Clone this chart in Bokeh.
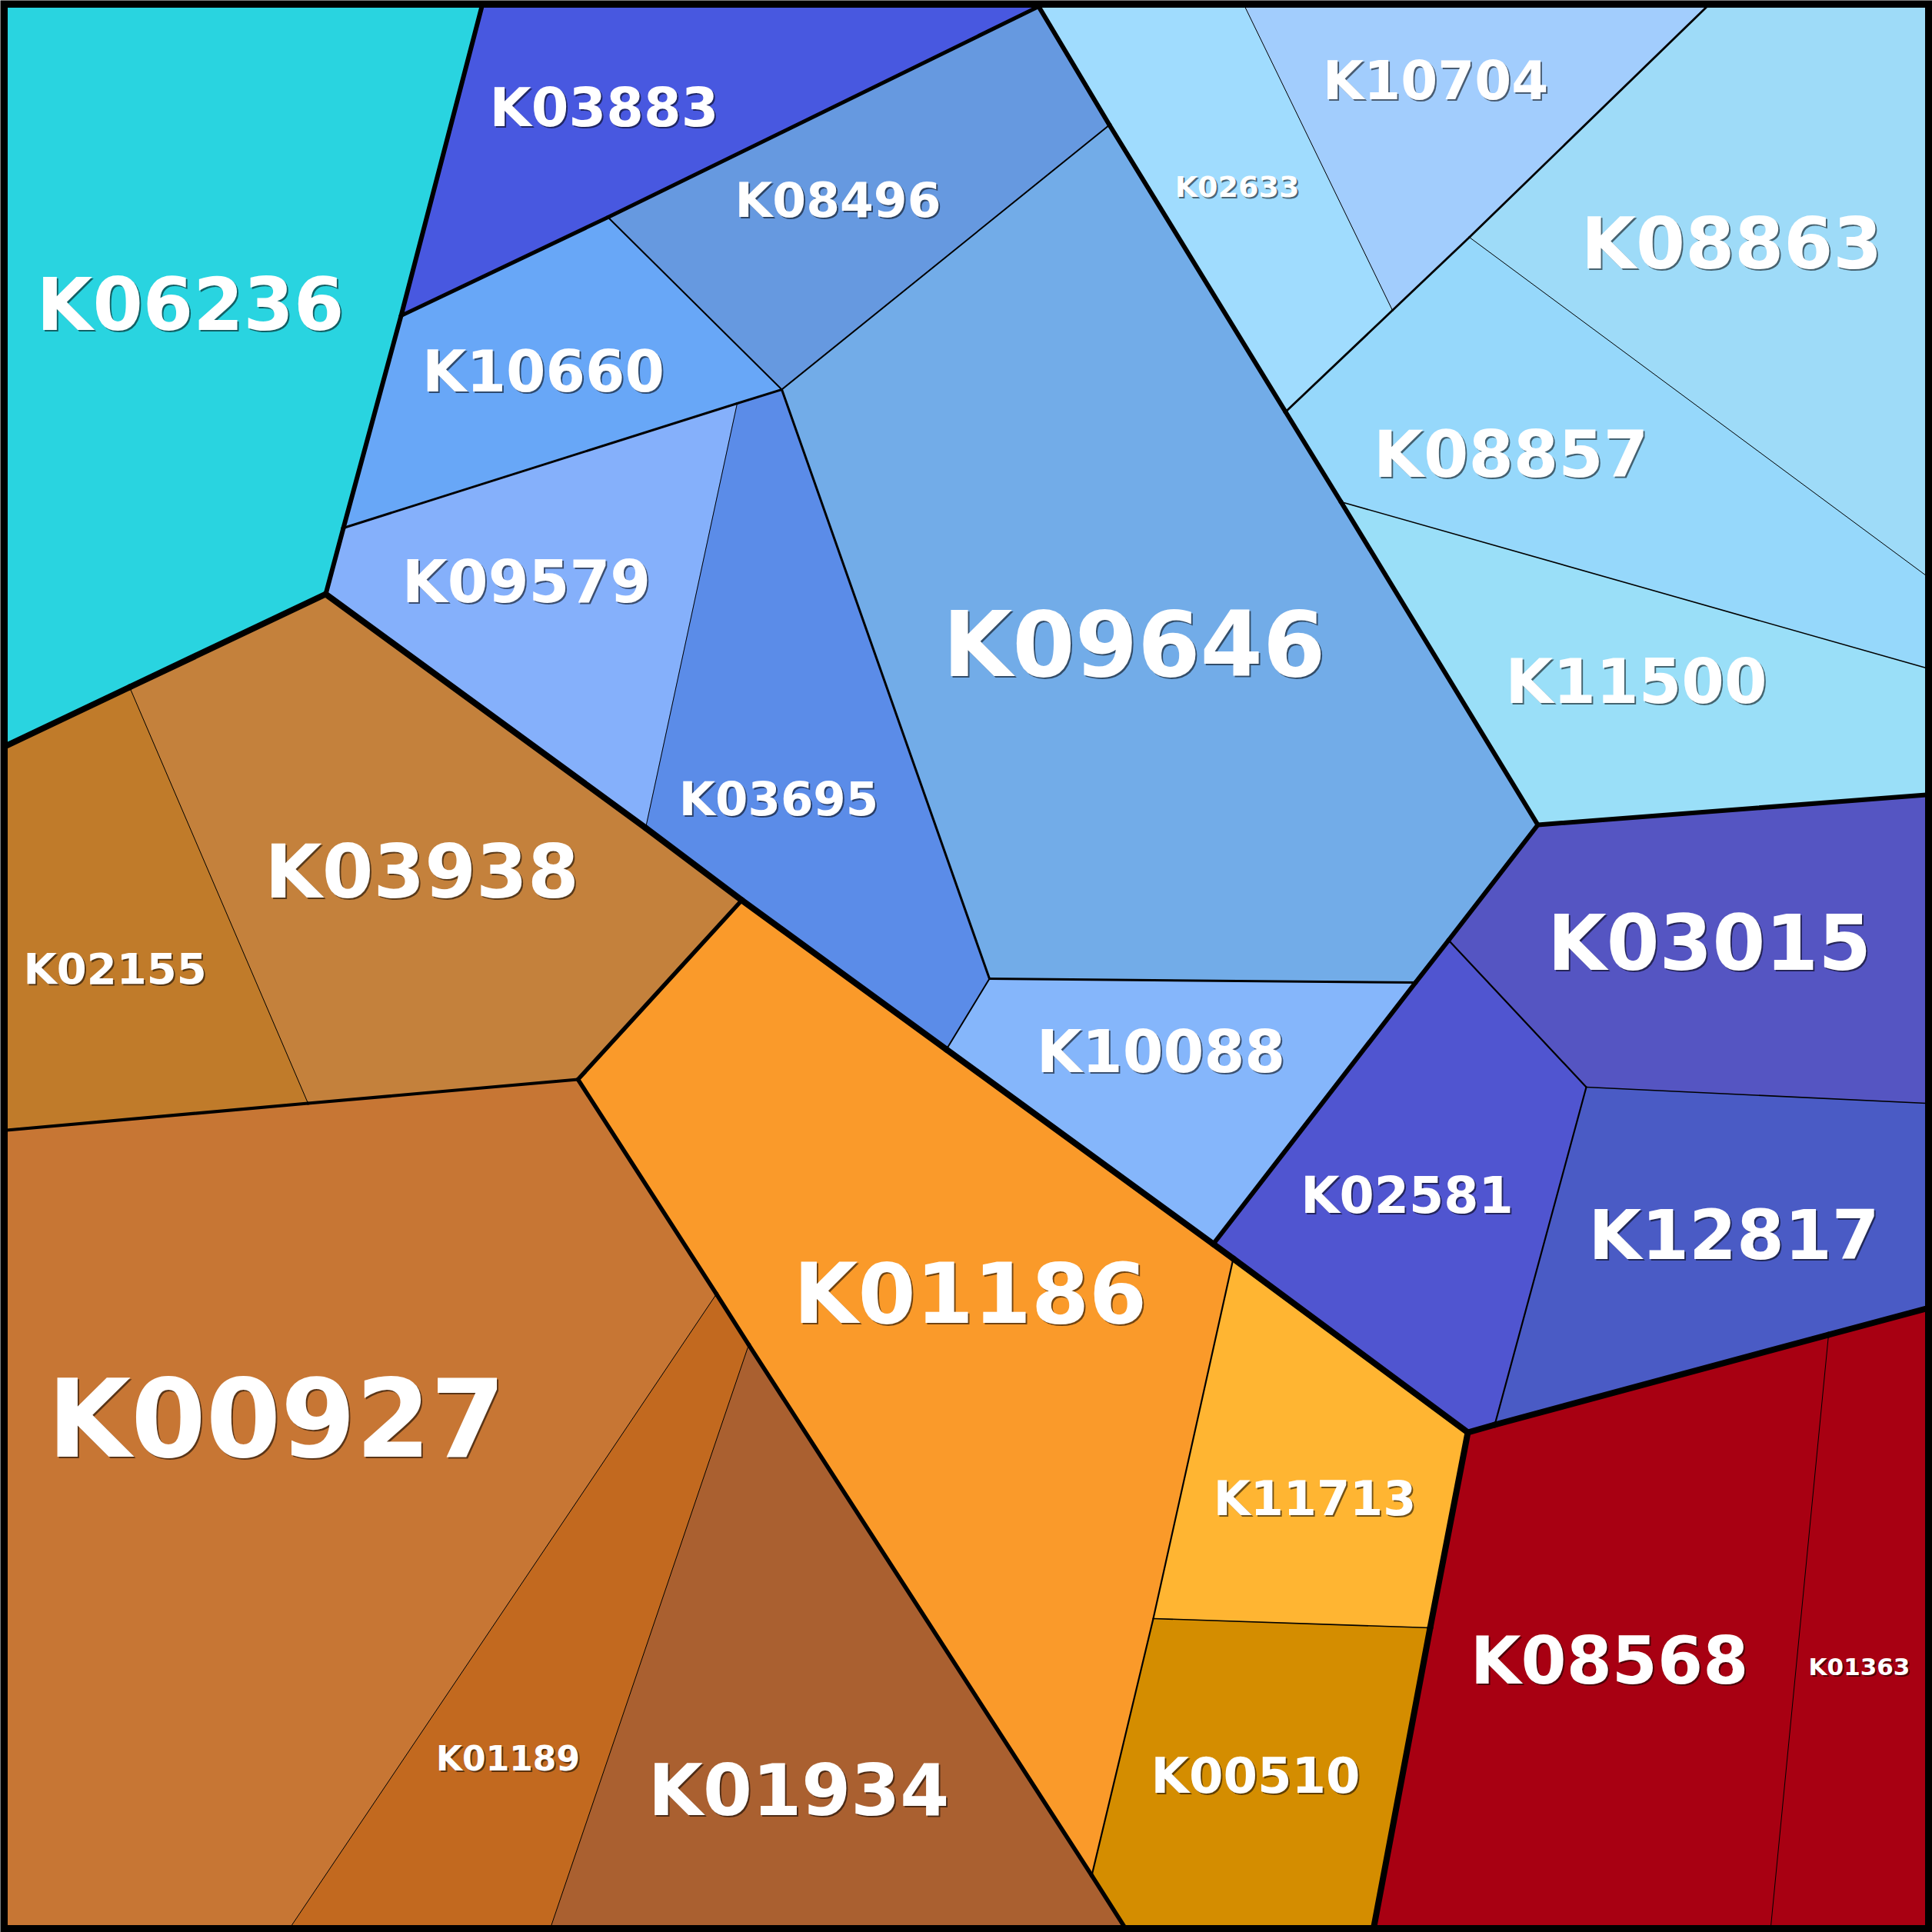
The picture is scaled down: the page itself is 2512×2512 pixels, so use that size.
from bokeh.plotting import figure
from bokeh.models import ColumnDataSource, Range1d
from bokeh.core.properties import value
from bokeh.embed import file_html
from bokeh.resources import INLINE

# ---------------- data (reference pixel coordinates) ----------------
vertex_names = ["O_TL", "t1", "t2", "t3", "t4", "O_TR", "r1", "r2", "r3", "r4", "r5", "O_BR",
                "b5", "b4", "b3", "b2", "b1", "O_BL", "l2", "l1",
                "a", "b", "c", "d", "e", "f", "g", "h", "i", "j", "k", "m", "n", "o",
                "p", "q", "r", "s", "t", "u", "v", "w", "x1", "y1", "z", "aa", "bb", "cc",
                "dd", "ee", "ff", "gg"]
vertex_x = [8, 626, 1350, 1618, 2219, 2504, 2504, 2504, 2504, 2504, 2504, 2504,
            2302, 1786, 1461, 716, 378, 8, 8, 8,
            521, 423, 790, 1016, 958, 446, 839, 1442, 1286, 1230, 1840, 1883, 1999, 2062,
            1577, 1603, 1908, 1943, 2377, 1859, 1499, 1419, 751, 964, 931, 973, 400, 168,
            1671, 1743, 1810, 1910]
vertex_y = [8, 8, 8, 8, 8, 8, 748, 868, 1033, 1434, 1701, 2504,
            2504, 2504, 2504, 2504, 2504, 2504, 1469, 969,
            410, 772, 282, 506, 524, 686, 1076, 162, 1272, 1364, 1277, 1222, 1072, 1413,
            1617, 1636, 1862, 1852, 1735, 2116, 2104, 2438, 1403, 1170, 1682, 1748, 1434, 893,
            535, 652, 403, 308]

cell_names = ["K06236", "K03883", "K08496", "K10660", "K09579", "K03695", "K09646", "K10088",
              "K02633", "K10704", "K08863", "K08857", "K11500",
              "K03015", "K02581", "K12817",
              "K08568", "K01363",
              "K11713", "K00510", "K01186",
              "K01934", "K01189", "K00927", "K03938", "K02155"]
cell_vertices = [
    ["O_TL", "t1", "a", "f", "b", "cc", "l1"],
    ["t1", "t2", "c", "a"],
    ["c", "t2", "h", "d"],
    ["a", "c", "d", "e", "f"],
    ["f", "e", "g", "b"],
    ["e", "d", "i", "j", "y1", "g"],
    ["d", "h", "dd", "ee", "n", "m", "k", "i"],
    ["i", "k", "p", "j"],
    ["t2", "t3", "ff", "dd", "h"],
    ["t3", "t4", "gg", "ff"],
    ["t4", "O_TR", "r1", "gg"],
    ["ff", "gg", "r1", "r2", "ee", "dd"],
    ["ee", "r2", "r3", "n"],
    ["n", "r3", "r4", "o", "m"],
    ["m", "o", "s", "r", "q", "p", "k"],
    ["o", "r4", "r5", "t", "s"],
    ["r", "s", "t", "b5", "b4", "u"],
    ["t", "r5", "O_BR", "b5"],
    ["q", "r", "u", "v"],
    ["v", "u", "b4", "b3", "w"],
    ["x1", "y1", "j", "p", "q", "v", "w", "aa", "z"],
    ["aa", "w", "b3", "b2"],
    ["z", "aa", "b2", "b1"],
    ["l2", "bb", "x1", "z", "b1", "O_BL"],
    ["cc", "b", "g", "y1", "x1", "bb"],
    ["l1", "cc", "bb", "l2"],
]

# hierarchy of the treemap (group name, children)
hierarchy = ("root", [
    ("G1", [
        "K06236",
        ("BLUE", ["K03883",
                  ("B2", [("B2a", ["K10660", "K08496", "K09646"]),
                          ("B2b", [("B2c", ["K09579", "K03695"]), "K10088"])])]),
        ("LBLUE", [("LB1", ["K02633", "K10704"]),
                   ("LB2", [("LB3", ["K08863", "K08857"]), "K11500"])]),
        ("PURPLE", ["K02581", ("P2", ["K03015", "K12817"])]),
    ]),
    ("G2", [
        ("BROWN", [("BR1", ["K03938", "K02155"]),
                   ("BR2", ["K00927", "K01189", "K01934"])]),
        ("ORANGE", ["K01186", ("OR2", ["K11713", "K00510"])]),
    ]),
    ("RED", ["K08568", "K01363"]),
])

label_x = [247, 785, 1089, 706, 684, 1012, 1474, 1509,
           1608, 1866, 2251, 1964, 2127,
           2222, 1829, 2254,
           2092, 2417,
           1709, 1632, 1261,
           1038, 660, 359, 548, 149]
label_y = [396, 139, 260, 482, 756, 1038, 838, 1367,
           242, 104, 317, 590, 886,
           1226, 1554, 1605,
           2159, 2166,
           1948, 2308, 1682,
           2328, 2286, 1845, 1133, 1259]

# ---------------- styles ----------------
cell_colors = ["#29D4E0", "#4858E0", "#6699E0", "#68A7F7", "#85B0FB", "#5B8CE8", "#72ACE8", "#85B6FB",
               "#A0DCFE", "#A2CDFD", "#9EDBF8", "#96D8FB", "#9ADFF8",
               "#5555C2", "#5055D0", "#4A5BC5",
               "#A80012", "#A80012",
               "#FFB532", "#D48D00", "#FA9A2A",
               "#AA6030", "#C2691F", "#C77634", "#C4813C", "#C07B2A"]
label_px = [94, 70, 63, 74, 76, 61, 117, 76,
            38, 69, 92, 84, 80,
            99, 65, 89,
            85, 31,
            62, 64, 108,
            92, 44, 140, 96, 56]
group_line_width = {"root": 8, "G1": 6, "G2": 5.5, "BLUE": 5, "B2": 3, "B2a": 2, "B2b": 2,
                    "B2c": 1, "LBLUE": 2.8, "LB1": 1, "LB2": 1.6, "LB3": 1, "PURPLE": 2.2,
                    "P2": 1.6, "RED": 1, "BROWN": 4.2, "BR1": 1, "BR2": 1, "ORANGE": 2.2, "OR2": 1.6}
outer_line_width = 3

# ---------------- geometry helpers ----------------
pos = {nm: (x, y) for nm, x, y in zip(vertex_names, vertex_x, vertex_y)}

parent = {}
def walk(node, par):
    name, kids = node
    parent[name] = par
    for kid in kids:
        if isinstance(kid, str):
            parent[kid] = name
        else:
            walk(kid, name)
walk(hierarchy, None)

def ancestors(n):
    out = []
    while n is not None:
        out.append(n)
        n = parent[n]
    return out

def lca(a, b):
    aa = ancestors(a)
    for n in ancestors(b):
        if n in aa and n != a and n != b:
            return n
    return "root"

edge_cells = {}
edge_order = []
for cname, verts in zip(cell_names, cell_vertices):
    for i in range(len(verts)):
        key = frozenset((verts[i], verts[(i + 1) % len(verts)]))
        if key not in edge_cells:
            edge_cells[key] = []
            edge_order.append(key)
        edge_cells[key].append(cname)

seg_xs, seg_ys, seg_w = [], [], []
for key in edge_order:
    cells = edge_cells[key]
    v1, v2 = sorted(key)
    if len(cells) == 2:
        w = group_line_width[lca(cells[0], cells[1])]
    else:
        w = outer_line_width
    seg_xs.append([pos[v1][0], pos[v2][0]])
    seg_ys.append([pos[v1][1], pos[v2][1]])
    seg_w.append(w)
order = sorted(range(len(seg_w)), key=lambda i: seg_w[i])
seg_src = ColumnDataSource(dict(xs=[seg_xs[i] for i in order], ys=[seg_ys[i] for i in order],
                                w=[seg_w[i] for i in order]))

cell_src = ColumnDataSource(dict(
    xs=[[pos[v][0] for v in verts] for verts in cell_vertices],
    ys=[[pos[v][1] for v in verts] for verts in cell_vertices],
    color=cell_colors, name=cell_names))

lab_src = ColumnDataSource(dict(
    x=label_x, y=label_y, text=cell_names,
    size=[f"{s}px" for s in label_px]))

# ---------------- figure ----------------
p = figure(width=2512, height=2512, output_backend="svg", toolbar_location=None,
           x_range=Range1d(0, 2512), y_range=Range1d(2512, 0),
           min_border=0, outline_line_color=None)
p.axis.visible = False
p.grid.visible = False
p.background_fill_color = "#000000"
p.border_fill_color = "#000000"

p.patches("xs", "ys", source=cell_src, fill_color="color", line_color="color", line_width=1)
p.multi_line("xs", "ys", source=seg_src, line_color="#000000", line_width="w", line_cap="round")

p.text("x", "y", text="text", source=lab_src, text_font=value("DejaVu Sans"), text_font_style="bold",
       text_font_size="size", text_align="center", text_baseline="alphabetic",
       text_color="#000000", text_alpha=0.55, x_offset=2, y_offset=2)
p.text("x", "y", text="text", source=lab_src, text_font=value("DejaVu Sans"), text_font_style="bold",
       text_font_size="size", text_align="center", text_baseline="alphabetic",
       text_color="#FFFFFF")

html = file_html(p, INLINE, title="Voronoi treemap")
html = html.replace("<body>", '<body style="background-color:#000000;">', 1)
open("out.html", "w").write(html)
